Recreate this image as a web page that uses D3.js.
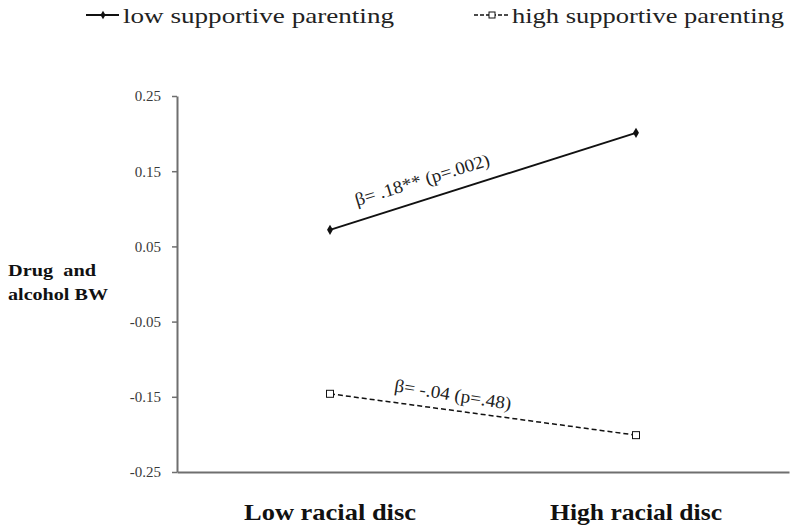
<!DOCTYPE html>
<html><head><meta charset="utf-8">
<script src="https://cdn.jsdelivr.net/npm/d3@7"></script>
<style>body{margin:0;background:#fff}svg{display:block}
.serif{font-family:"Liberation Serif","DejaVu Serif","Noto Serif","Times New Roman",Times,serif;white-space:pre;}</style>
</head><body>
<svg id="c" width="799" height="530"></svg>
<script>
const categories = ["Low racial disc", "High racial disc"];
const lowSupport = [0.072, 0.201];
const highSupport = [-0.146, -0.201];
const yTicks = [0.25, 0.15, 0.05, -0.05, -0.15, -0.25];
const seriesNames = ["low supportive parenting", "high supportive parenting"];
const annotations = ["β= .18** (p=.002)", "β= -.04 (p=.48)"];

(function () {
const svg = d3.select("#c");
const mLeft = 177, mRight = 789, mTop = 96, mBottom = 472;
const x = d3.scaleBand().domain(categories).range([mLeft, mRight]);
const y = d3.scaleLinear().domain([-0.25, 0.25]).range([mBottom, mTop]);
const cx = c => x(c) + x.bandwidth() / 2;
const fmt = d => d3.format(".2f")(d).replace("−", "-");

// y axis
const ya = svg.append("g").attr("transform", `translate(${mLeft},0)`)
  .call(d3.axisLeft(y).tickValues(yTicks).tickFormat(fmt).tickSize(5).tickSizeOuter(0));
ya.attr("font-family", null);
ya.select(".domain").attr("stroke", "#6f6f6f").attr("stroke-width", 2);
ya.selectAll(".tick line").attr("stroke", "#6f6f6f").attr("stroke-width", 1.5);
ya.selectAll(".tick text").attr("class", "serif").attr("font-size", 15).attr("fill", "#3a3a3a").attr("x", -16);

// x axis
const xa = svg.append("g").attr("transform", `translate(0,${mBottom})`)
  .call(d3.axisBottom(x).tickSize(0).tickSizeOuter(0));
xa.attr("font-family", null);
xa.select(".domain").attr("stroke", "#6f6f6f").attr("stroke-width", 2);
xa.selectAll(".tick text").attr("class", "serif").attr("font-size", 23).attr("font-weight", "bold")
  .attr("fill", "#111").attr("dy", 0).attr("y", 48)
  .attr("textLength", 172).attr("lengthAdjust", "spacingAndGlyphs");

// y label
const yl = svg.append("text").attr("class", "serif").attr("font-size", 17).attr("font-weight", "bold").attr("fill", "#111");
yl.append("tspan").attr("x", 8).attr("y", 276).attr("textLength", 88).attr("lengthAdjust", "spacingAndGlyphs").text("Drug  and");
yl.append("tspan").attr("x", 8).attr("y", 300).attr("textLength", 100).attr("lengthAdjust", "spacingAndGlyphs").text("alcohol BW");

const line = d3.line().x((d, i) => cx(categories[i])).y(d => y(d));

// low supportive
svg.append("path").datum(lowSupport).attr("d", line).attr("fill", "none").attr("stroke", "#111").attr("stroke-width", 2);
const diamond = d3.symbol().type(d3.symbolDiamond).size(30);
svg.selectAll(".dm").data(lowSupport).enter().append("path")
  .attr("transform", (d, i) => `translate(${cx(categories[i])},${y(d)})`).attr("d", diamond).attr("fill", "#111");

// high supportive
svg.append("path").datum(highSupport).attr("d", line).attr("fill", "none").attr("stroke", "#111")
  .attr("stroke-width", 1.5).attr("stroke-dasharray", "5,3");
svg.selectAll(".sq").data(highSupport).enter().append("rect")
  .attr("x", (d, i) => cx(categories[i]) - 3.5).attr("y", d => y(d) - 3.5)
  .attr("width", 7).attr("height", 7).attr("fill", "#fff").attr("stroke", "#111").attr("stroke-width", 1);

// annotations
svg.append("text").attr("class", "serif").attr("font-size", 18).attr("fill", "#222")
  .attr("text-anchor", "middle")
  .attr("transform", `translate(424,${y(0.131)}) rotate(-17)`)
  .attr("textLength", 140).attr("lengthAdjust", "spacingAndGlyphs")
  .text(annotations[0]);
svg.append("text").attr("class", "serif").attr("font-size", 18).attr("fill", "#222")
  .attr("text-anchor", "middle")
  .attr("transform", `translate(452,${y(-0.155)}) rotate(9)`)
  .attr("textLength", 118).attr("lengthAdjust", "spacingAndGlyphs")
  .text(annotations[1]);

// legend
const lg = svg.append("g");
lg.append("line").attr("x1", 86).attr("x2", 119).attr("y1", 15).attr("y2", 15).attr("stroke", "#111").attr("stroke-width", 2);
lg.append("path").attr("transform", "translate(103,15)").attr("d", d3.symbol().type(d3.symbolDiamond).size(22)).attr("fill", "#111");
lg.append("text").attr("class", "serif").attr("x", 123).attr("y", 23).attr("font-size", 22).attr("fill", "#222")
  .attr("textLength", 271).attr("lengthAdjust", "spacingAndGlyphs").text(seriesNames[0]);
lg.append("line").attr("x1", 474).attr("x2", 510).attr("y1", 15).attr("y2", 15).attr("stroke", "#111").attr("stroke-width", 1.5).attr("stroke-dasharray", "4,2");
lg.append("rect").attr("x", 489).attr("y", 12).attr("width", 6).attr("height", 6).attr("fill", "#fff").attr("stroke", "#111");
lg.append("text").attr("class", "serif").attr("x", 512).attr("y", 23).attr("font-size", 22).attr("fill", "#222")
  .attr("textLength", 272).attr("lengthAdjust", "spacingAndGlyphs").text(seriesNames[1]);
})();
</script>
</body></html>
